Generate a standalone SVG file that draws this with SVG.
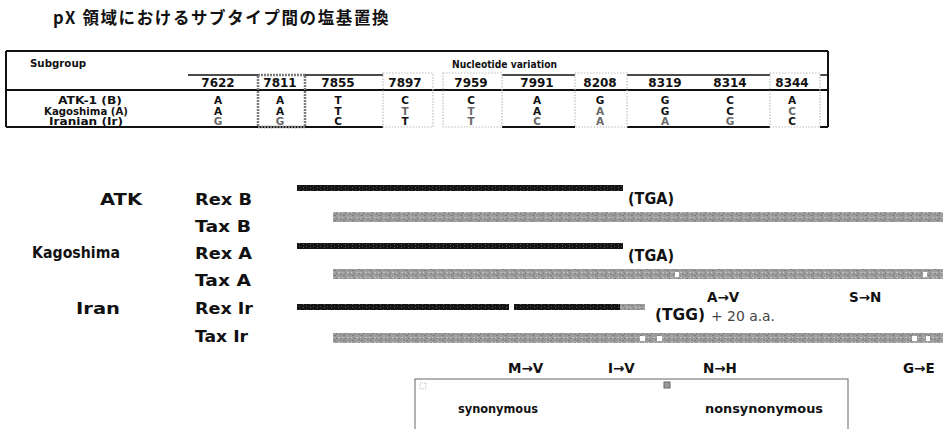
<svg xmlns="http://www.w3.org/2000/svg" width="943" height="429" viewBox="0 0 943 429">
<defs>
<pattern id="tex" width="9" height="5" patternUnits="userSpaceOnUse">
<rect width="9" height="5" fill="#9d9d9d"/>
<rect x="1" y="0" width="2" height="1" fill="#767676"/>
<rect x="5" y="2" width="2" height="1" fill="#c2c2c2"/>
<rect x="3" y="3" width="1" height="1" fill="#6a6a6a"/>
<rect x="7" y="4" width="2" height="1" fill="#848484"/>
<rect x="0" y="2" width="1" height="1" fill="#c8c8c8"/>
</pattern>
<pattern id="texd" width="7" height="3" patternUnits="userSpaceOnUse">
<rect width="7" height="3" fill="#141414"/>
<rect x="2" y="1" width="1" height="1" fill="#5a5a5a"/>
<rect x="5" y="0" width="1" height="1" fill="#444"/>
</pattern>
</defs>
<style>
.t{font-family:"DejaVu Sans","Liberation Sans",sans-serif;font-weight:bold;fill:#111}
.th{font-size:10px}
.tn{font-size:12px;text-anchor:middle}
.tl{font-size:10.5px;text-anchor:middle}
.g{fill:#6a6a6a}
.lab{font-size:15px}
.mut{font-size:13.5px}
.leg{font-size:12px}
.ln{stroke:#111;stroke-width:1.5;fill:none}
.lnb{stroke:#111;stroke-width:2;fill:none}
.nsy{fill:none;stroke:#7a7a7a;stroke-width:2.5;stroke-dasharray:2 1}
.syn{fill:none;stroke:#bdbdbd;stroke-width:1.2;stroke-dasharray:1.5 1.5}
.rex{fill:url(#texd)}
.tax{fill:url(#tex)}
</style>
<rect width="943" height="429" fill="#fff"/>

<g id="title">
<text x="53" y="24" font-family="'Noto Sans CJK JP','Noto Sans CJK SC',sans-serif" font-weight="bold" font-size="16.5" letter-spacing="1.6" fill="#111">pX 領域におけるサブタイプ間の塩基置換</text>
</g>

<g id="table">
<line class="lnb" x1="6" y1="51" x2="828" y2="51"/>
<line class="lnb" x1="6" y1="51" x2="6" y2="127"/>
<line class="lnb" x1="828" y1="51" x2="828" y2="127"/>
<line class="lnb" x1="6" y1="90" x2="828" y2="90"/>
<path class="ln" d="M188 75H258M305 75H383M502 75H575M627 75H770M820 75H828"/>
<path class="lnb" d="M6 127H383M502 127H575M627 127H770M820 127H828"/>
<rect class="nsy" x="258" y="75" width="47" height="52"/>
<rect class="syn" x="383" y="73" width="50" height="54"/>
<rect class="syn" x="443" y="73" width="59" height="54"/>
<rect class="syn" x="575" y="73" width="52" height="54"/>
<rect class="syn" x="770" y="73" width="50" height="54"/>
<text class="t th" x="30" y="67" textLength="56" lengthAdjust="spacingAndGlyphs">Subgroup</text>
<text class="t th" x="452" y="68" textLength="105" lengthAdjust="spacingAndGlyphs">Nucleotide variation</text>
<g class="t tn">
<text x="218" y="87">7622</text><text x="280" y="87">7811</text><text x="338" y="87">7855</text><text x="405" y="87">7897</text><text x="471" y="87">7959</text><text x="537" y="87">7991</text><text x="600" y="87">8208</text><text x="665" y="87">8319</text><text x="730" y="87">8314</text><text x="792" y="87">8344</text>
</g>
<g class="t tl">
<text x="90" y="104" textLength="64" lengthAdjust="spacingAndGlyphs">ATK-1 (B)</text><text x="86" y="114.5" textLength="84" lengthAdjust="spacingAndGlyphs">Kagoshima (A)</text><text x="86" y="125" textLength="74" lengthAdjust="spacingAndGlyphs">Iranian (Ir)</text>
<text x="218" y="104">A</text><text x="280" y="104">A</text><text x="338" y="104">T</text><text x="405" y="104">C</text><text x="471" y="104">C</text><text x="537" y="104">A</text><text x="600" y="104">G</text><text x="665" y="104">G</text><text x="730" y="104">C</text><text x="792" y="104">A</text>
<text x="218" y="114.5">A</text><text x="280" y="114.5">A</text><text x="338" y="114.5">T</text><text class="g" x="405" y="114.5">T</text><text class="g" x="471" y="114.5">T</text><text x="537" y="114.5">A</text><text class="g" x="600" y="114.5">A</text><text x="665" y="114.5">G</text><text x="730" y="114.5">C</text><text class="g" x="792" y="114.5">C</text>
<text class="g" x="218" y="125">G</text><text class="g" x="280" y="125">G</text><text x="338" y="125">C</text><text x="405" y="125">T</text><text class="g" x="471" y="125">T</text><text class="g" x="537" y="125">C</text><text class="g" x="600" y="125">A</text><text class="g" x="665" y="125">A</text><text class="g" x="730" y="125">G</text><text x="792" y="125">C</text>
</g>
</g>

<g id="strain-labels" class="t lab">
<text x="100" y="205" textLength="42" lengthAdjust="spacingAndGlyphs">ATK</text>
<text x="32" y="258" textLength="88" lengthAdjust="spacingAndGlyphs">Kagoshima</text>
<text x="76" y="314" textLength="44" lengthAdjust="spacingAndGlyphs">Iran</text>
</g>

<g id="rexB">
<text class="t lab" x="195" y="205" textLength="57" lengthAdjust="spacingAndGlyphs">Rex B</text>
<rect class="rex" x="297" y="185" width="326" height="6"/>
<text class="t lab" x="628" y="204" textLength="46" lengthAdjust="spacingAndGlyphs">(TGA)</text>
</g>
<g id="taxB">
<text class="t lab" x="195" y="232" textLength="56" lengthAdjust="spacingAndGlyphs">Tax B</text>
<rect class="tax" x="333" y="212" width="610" height="10"/>
</g>
<g id="rexA">
<text class="t lab" x="195" y="259" textLength="57" lengthAdjust="spacingAndGlyphs">Rex A</text>
<rect class="rex" x="297" y="243" width="326" height="6"/>
<text class="t lab" x="628" y="261" textLength="46" lengthAdjust="spacingAndGlyphs">(TGA)</text>
</g>
<g id="taxA">
<text class="t lab" x="195" y="286" textLength="56" lengthAdjust="spacingAndGlyphs">Tax A</text>
<rect class="tax" x="333" y="269" width="610" height="10"/>
<rect x="675" y="272" width="4" height="5" fill="#fff"/>
<rect x="923" y="272" width="4" height="5" fill="#fff"/>
</g>
<g id="rexIr">
<text class="t lab" x="195" y="314" textLength="58" lengthAdjust="spacingAndGlyphs">Rex Ir</text>
<rect class="rex" x="297" y="304" width="212" height="6"/>
<rect class="rex" x="514" y="304" width="106" height="6"/>
<rect class="tax" x="620" y="304" width="25" height="6"/>
<text class="t lab" x="655" y="320" textLength="50" lengthAdjust="spacingAndGlyphs">(TGG)</text>
<text x="711" y="321" font-family="'DejaVu Sans',sans-serif" font-size="14" fill="#444" textLength="64" lengthAdjust="spacingAndGlyphs">+ 20 a.a.</text>
<text class="t mut" x="707" y="302">A→V</text>
<text class="t mut" x="849" y="302">S→N</text>
</g>
<g id="taxIr">
<text class="t lab" x="195" y="342" textLength="53" lengthAdjust="spacingAndGlyphs">Tax Ir</text>
<rect class="tax" x="333" y="333" width="610" height="10"/>
<rect x="640" y="336" width="5" height="5" fill="#fff"/>
<rect x="657" y="336" width="5" height="5" fill="#fff"/>
<rect x="912" y="336" width="5" height="5" fill="#fff"/>
<rect x="926" y="336" width="4" height="5" fill="#fff"/>
<g class="t mut">
<text x="508" y="373">M→V</text><text x="608" y="373">I→V</text><text x="703" y="373">N→H</text><text x="903" y="373">G→E</text>
</g>
</g>

<g id="legend">
<rect x="415" y="379" width="433" height="60" fill="none" stroke="#666" stroke-width="1"/>
<rect x="420" y="383" width="6" height="6" fill="none" stroke="#bbb" stroke-width="1" stroke-dasharray="1 1"/>
<text class="t leg" x="458" y="413" textLength="80" lengthAdjust="spacingAndGlyphs">synonymous</text>
<rect x="664" y="382" width="6" height="6" fill="#999" stroke="#666" stroke-width="1"/>
<text class="t leg" x="705" y="413" textLength="118" lengthAdjust="spacingAndGlyphs">nonsynonymous</text>
</g>
</svg>
